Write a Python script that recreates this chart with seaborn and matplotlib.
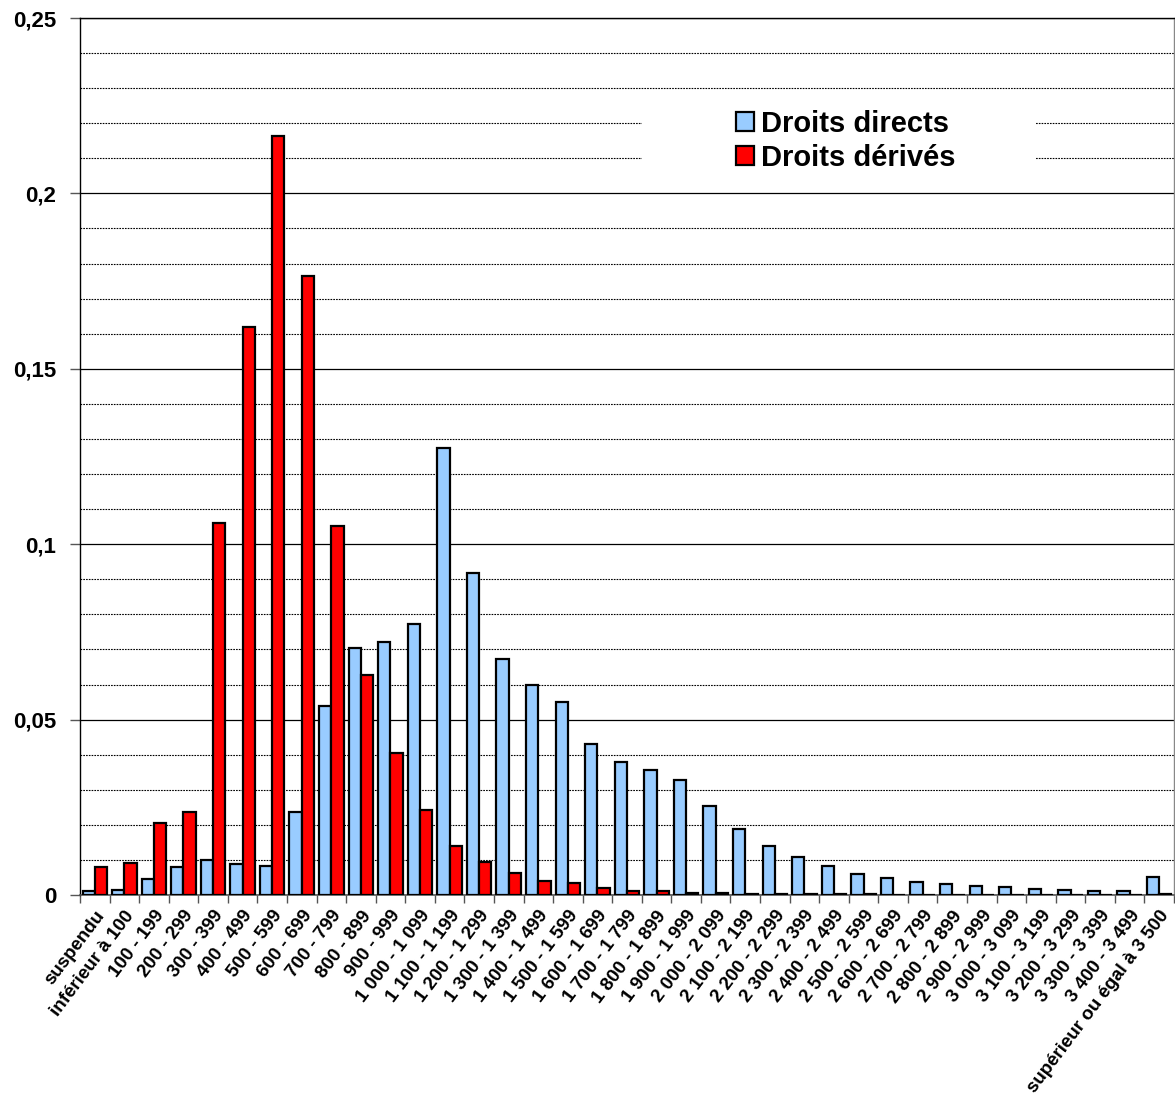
import matplotlib
matplotlib.use("Agg")
import matplotlib.pyplot as plt
from matplotlib.patches import Patch, Rectangle
from matplotlib.ticker import MultipleLocator, FixedLocator
import seaborn as sns
import pandas as pd

tranches = ["suspendu", "inférieur à 100"] + \
    ["%s - %s" % (f"{a:,}".replace(",", " "), f"{a + 99:,}".replace(",", " "))
     for a in range(100, 3500, 100)] + ["supérieur ou égal à 3 500"]

droits_directs = [0.0011, 0.0013, 0.0047, 0.0081, 0.0100, 0.0089, 0.0083, 0.0237,
                  0.0538, 0.0703, 0.0722, 0.0773, 0.1273, 0.0919, 0.0674, 0.0598,
                  0.0549, 0.0431, 0.0380, 0.0357, 0.0327, 0.0254, 0.0188, 0.0139,
                  0.0108, 0.0082, 0.0061, 0.0048, 0.0038, 0.0030, 0.0026, 0.0023,
                  0.0017, 0.0014, 0.0011, 0.0010, 0.0050]
droits_derives = [0.0079, 0.0090, 0.0206, 0.0237, 0.1060, 0.1618, 0.2165, 0.1764,
                  0.1051, 0.0627, 0.0406, 0.0243, 0.0139, 0.0094, 0.0062, 0.0041,
                  0.0035, 0.0021, 0.0012, 0.0011, 0.0007, 0.0005, 0.0004, 0.0003,
                  0.0003, 0.0002, 0.0002, 0.0001, 0.0001, 0.0001, 0.0001, 0.0001,
                  0.0001, 0.0001, 0.0001, 0.0001, 0.0003]
series = ["Droits directs", "Droits dérivés"]
couleurs = ["#99CCFF", "#FF0000"]

df = pd.DataFrame({
    "tranche": tranches * 2,
    "part": droits_directs + droits_derives,
    "type": [series[0]] * len(tranches) + [series[1]] * len(tranches),
})

sns.set_style("white")
plt.rcParams["font.family"] = ["Liberation Sans", "DejaVu Sans"]
plt.rcParams["font.weight"] = "bold"
plt.rcParams["text.color"] = "black"
plt.rcParams["xtick.color"] = "black"
plt.rcParams["ytick.color"] = "black"

fig = plt.figure(figsize=(11.75, 11), dpi=100)
ax = fig.add_axes([80 / 1175, 1 - 895 / 1100, 1094 / 1175, 877 / 1100])

sns.barplot(data=df, x="tranche", y="part", hue="type", palette=couleurs,
            saturation=1, edgecolor="black", linewidth=1.6, width=0.83, ax=ax,
            legend=False, zorder=3)

n = len(tranches)
ax.set_xlim(-0.5, n - 0.5)
ax.set_ylim(0, 0.25)

# grille : traits pleins tous les 0,05, pointillés tous les 0,01
ax.set_axisbelow(True)
ax.yaxis.set_major_locator(MultipleLocator(0.05))
ax.yaxis.set_minor_locator(MultipleLocator(0.01))
ax.grid(axis="y", which="major", color="black", linewidth=0.9, linestyle="-")
ax.grid(axis="y", which="minor", color="black", linewidth=0.8, linestyle=(0, (1.5, 1)))
ax.set_yticks([0, 0.05, 0.1, 0.15, 0.2, 0.25])
ax.set_yticklabels(["0", "0,05", "0,1", "0,15", "0,2", "0,25"],
                   fontsize=16, fontweight="bold")
ax.tick_params(axis="y", which="major", direction="out", length=7, width=1,
               color="#555555", pad=10, left=True, labelcolor="black")
ax.tick_params(axis="y", which="minor", length=0)

ax.set_xticks(range(n))
ax.set_xticklabels(tranches, rotation=53, ha="right", rotation_mode="anchor",
                   fontsize=13.5, fontweight="bold")
ax.xaxis.set_minor_locator(FixedLocator([i + 0.5 for i in range(-1, n)]))
ax.tick_params(axis="x", which="major", length=0, pad=9, labelcolor="black")
ax.tick_params(axis="x", which="minor", direction="out", length=6, width=1,
               color="#555555", bottom=True)

ax.set_xlabel("")
ax.set_ylabel("")
for side in ["left", "top"]:
    ax.spines[side].set_color("black")
    ax.spines[side].set_linewidth(1)
ax.spines["bottom"].set_color("#555555")
ax.spines["bottom"].set_linewidth(1.2)
ax.spines["right"].set_color("#888888")
ax.spines["right"].set_linewidth(1)

# fond blanc de la légende qui masque les pointillés
ax.add_patch(Rectangle((0.514, 0.81), 0.36, 0.09, transform=ax.transAxes,
                       facecolor="white", edgecolor="none", zorder=2))
handles = [Patch(facecolor=c, edgecolor="black", linewidth=1.6) for c in couleurs]
leg = ax.legend(handles, series, loc="center left", bbox_to_anchor=(0.600, 0.860),
                frameon=False, borderpad=0, borderaxespad=0,
                prop={"weight": "bold", "size": 21}, handlelength=0.6,
                handleheight=0.6, handletextpad=0.25, labelspacing=0.2)
for t in leg.get_texts():
    t.set_color("black")

fig.savefig("out.png", dpi=100, facecolor="white")
